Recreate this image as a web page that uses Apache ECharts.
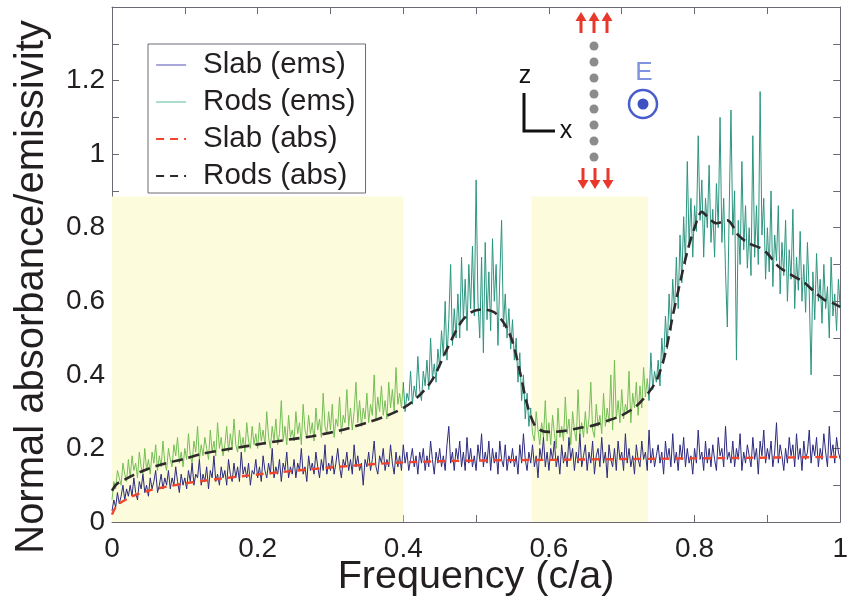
<!DOCTYPE html>
<html>
<head>
<meta charset="utf-8">
<script src="https://cdn.jsdelivr.net/npm/echarts@6/dist/echarts.min.js"></script>
<style>
  html, body { margin: 0; padding: 0; background: #fff; }
  #chart { width: 851px; height: 600px; }
</style>
</head>
<body>
<div id="chart"></div>
<script>
// Sampling grid of the emission spectra (c/a)
const emsStep = 0.0025;
const emsCount = 401;

// Rods emissivity, one value per grid step
const rodsEms = [
  0.06, 0.11, 0.09, 0.14, 0.12, 0.10, 0.16, 0.13, 0.11, 0.17,
  0.12, 0.18, 0.14, 0.16, 0.12, 0.19, 0.15, 0.13, 0.20, 0.14,
  0.17, 0.13, 0.19, 0.16, 0.21, 0.14, 0.18, 0.15, 0.22, 0.16,
  0.14, 0.20, 0.17, 0.15, 0.21, 0.18, 0.23, 0.16, 0.19, 0.15,
  0.20, 0.17, 0.24, 0.18, 0.16, 0.22, 0.19, 0.26, 0.17, 0.21,
  0.18, 0.23, 0.20, 0.17, 0.25, 0.19, 0.22, 0.18, 0.27, 0.20,
  0.23, 0.18, 0.21, 0.26, 0.19, 0.24, 0.20, 0.28, 0.21, 0.19,
  0.25, 0.20, 0.23, 0.19, 0.27, 0.22, 0.20, 0.26, 0.21, 0.24,
  0.20, 0.27, 0.22, 0.25, 0.21, 0.30, 0.23, 0.20, 0.26, 0.22,
  0.28, 0.21, 0.24, 0.33, 0.22, 0.26, 0.21, 0.29, 0.23, 0.25,
  0.22, 0.30, 0.24, 0.27, 0.21, 0.32, 0.25, 0.23, 0.29, 0.24,
  0.27, 0.22, 0.31, 0.25, 0.28, 0.23, 0.35, 0.26, 0.24, 0.30,
  0.25, 0.32, 0.23, 0.28, 0.26, 0.34, 0.24, 0.29, 0.27, 0.36,
  0.26, 0.31, 0.25, 0.30, 0.38, 0.27, 0.33, 0.26, 0.31, 0.28,
  0.35, 0.27, 0.32, 0.29, 0.40, 0.28, 0.34, 0.30, 0.37, 0.29,
  0.33, 0.28, 0.38, 0.31, 0.36, 0.30, 0.42, 0.32, 0.35, 0.31,
  0.38, 0.30, 0.35, 0.33, 0.41, 0.32, 0.37, 0.34, 0.45, 0.36,
  0.33, 0.41, 0.37, 0.44, 0.36, 0.50, 0.39, 0.43, 0.38, 0.47,
  0.42, 0.52, 0.45, 0.60, 0.44, 0.55, 0.70, 0.48, 0.58, 0.50,
  0.62, 0.50, 0.72, 0.55, 0.66, 0.52, 0.70, 0.58, 0.75, 0.56,
  0.93, 0.60, 0.50, 0.72, 0.46, 0.76, 0.55, 0.68, 0.52, 0.77,
  0.60, 0.70, 0.48, 0.66, 0.82, 0.53, 0.62, 0.50, 0.58, 0.47,
  0.55, 0.44, 0.50, 0.38, 0.46, 0.33, 0.40, 0.28, 0.35, 0.26,
  0.31, 0.24, 0.22, 0.30, 0.25, 0.21, 0.27, 0.23, 0.33, 0.22,
  0.27, 0.21, 0.29, 0.24, 0.20, 0.31, 0.23, 0.26, 0.22, 0.34,
  0.24, 0.28, 0.21, 0.30, 0.25, 0.22, 0.36, 0.24, 0.27, 0.23,
  0.30, 0.24, 0.28, 0.38, 0.25, 0.23, 0.32, 0.26, 0.29, 0.24,
  0.35, 0.26, 0.31, 0.27, 0.40, 0.25, 0.44, 0.28, 0.33, 0.27,
  0.36, 0.28, 0.32, 0.30, 0.41, 0.27, 0.35, 0.31, 0.38, 0.29,
  0.37, 0.31, 0.42, 0.34, 0.39, 0.33, 0.46, 0.36, 0.41, 0.38,
  0.44, 0.37, 0.50, 0.43, 0.56, 0.47, 0.62, 0.52, 0.66, 0.57,
  0.72, 0.58, 0.78, 0.65, 0.83, 0.70, 0.98, 0.75, 0.88, 0.72,
  0.86, 0.79, 1.05, 0.82, 0.93, 0.72, 0.88, 0.80, 0.97, 0.76,
  0.85, 0.72, 0.92, 0.80, 1.10, 0.76, 0.88, 0.68, 0.53, 0.84,
  1.12, 0.78, 0.90, 0.44, 0.82, 0.70, 0.98, 0.74, 0.86, 0.69,
  0.80, 0.67, 1.05, 0.72, 0.86, 0.70, 1.17, 0.78, 0.88, 0.66,
  0.80, 0.68, 0.90, 0.64, 0.78, 0.71, 0.86, 0.62, 0.76, 0.67,
  0.82, 0.60, 0.74, 0.66, 0.85, 0.58, 0.72, 0.63, 0.79, 0.60,
  0.70, 0.57, 0.76, 0.62, 0.40, 0.68, 0.55, 0.73, 0.60, 0.66,
  0.54, 0.70, 0.58, 0.64, 0.50, 0.72, 0.56, 0.62, 0.52, 0.66, 0.58
];

// Slab emissivity, same grid
const slabEms = [
  0.03, 0.06, 0.04, 0.08, 0.05, 0.07, 0.10, 0.06, 0.09, 0.07,
  0.10, 0.07, 0.12, 0.08, 0.06, 0.11, 0.09, 0.13, 0.08, 0.10,
  0.07, 0.12, 0.09, 0.11, 0.14, 0.08, 0.10, 0.13, 0.09, 0.12,
  0.10, 0.14, 0.09, 0.12, 0.10, 0.15, 0.11, 0.08, 0.13, 0.10,
  0.12, 0.09, 0.14, 0.11, 0.16, 0.10, 0.13, 0.12, 0.17, 0.10,
  0.13, 0.11, 0.15, 0.09, 0.14, 0.12, 0.18, 0.11, 0.13, 0.10,
  0.15, 0.12, 0.14, 0.10, 0.17, 0.13, 0.11, 0.16, 0.12, 0.15,
  0.11, 0.19, 0.13, 0.15, 0.12, 0.16, 0.10, 0.14, 0.13, 0.17,
  0.12, 0.15, 0.11, 0.18, 0.14, 0.12, 0.16, 0.13, 0.20, 0.12,
  0.15, 0.13, 0.17, 0.11, 0.16, 0.14, 0.19, 0.12, 0.15, 0.13,
  0.17, 0.12, 0.16, 0.14, 0.20, 0.13, 0.15, 0.11, 0.18, 0.14,
  0.16, 0.13, 0.19, 0.15, 0.12, 0.17, 0.14, 0.21, 0.13, 0.16,
  0.14, 0.18, 0.13, 0.16, 0.20, 0.15, 0.12, 0.17, 0.15, 0.19,
  0.14, 0.17, 0.13, 0.21, 0.15, 0.18, 0.14, 0.16, 0.10, 0.17,
  0.15, 0.19, 0.14, 0.17, 0.22, 0.15, 0.13, 0.18, 0.16, 0.20,
  0.14, 0.17, 0.15, 0.21, 0.16, 0.13, 0.19, 0.15, 0.18, 0.14,
  0.21, 0.16, 0.19, 0.14, 0.17, 0.20, 0.15, 0.18, 0.13, 0.19,
  0.16, 0.20, 0.14, 0.18, 0.15, 0.22, 0.17, 0.13, 0.19, 0.16,
  0.20, 0.15, 0.18, 0.14, 0.21, 0.26, 0.16, 0.19, 0.14, 0.20,
  0.17, 0.22, 0.15, 0.19, 0.14, 0.23, 0.16, 0.20, 0.15, 0.18,
  0.14, 0.21, 0.17, 0.24, 0.15, 0.19, 0.16, 0.22, 0.14, 0.20,
  0.16, 0.19, 0.13, 0.22, 0.17, 0.15, 0.21, 0.14, 0.18, 0.16,
  0.20, 0.15, 0.18, 0.13, 0.21, 0.16, 0.24, 0.17, 0.14, 0.19,
  0.16, 0.21, 0.15, 0.18, 0.12, 0.20, 0.17, 0.23, 0.15, 0.19,
  0.14, 0.20, 0.17, 0.22, 0.15, 0.18, 0.13, 0.21, 0.16, 0.19,
  0.15, 0.23, 0.17, 0.20, 0.14, 0.19, 0.16, 0.24, 0.15, 0.18,
  0.21, 0.14, 0.19, 0.16, 0.22, 0.13, 0.18, 0.20, 0.15, 0.23,
  0.16, 0.19, 0.12, 0.21, 0.17, 0.15, 0.20, 0.14, 0.22, 0.17,
  0.19, 0.14, 0.24, 0.16, 0.20, 0.15, 0.18, 0.13, 0.21, 0.17,
  0.15, 0.22, 0.17, 0.19, 0.14, 0.25, 0.16, 0.20, 0.15, 0.18,
  0.21, 0.16, 0.19, 0.13, 0.22, 0.17, 0.20, 0.15, 0.24, 0.16,
  0.19, 0.14, 0.21, 0.17, 0.23, 0.15, 0.20, 0.16, 0.18, 0.13,
  0.20, 0.16, 0.25, 0.17, 0.19, 0.14, 0.22, 0.16, 0.20, 0.15,
  0.21, 0.17, 0.14, 0.23, 0.18, 0.20, 0.15, 0.26, 0.17, 0.19,
  0.16, 0.22, 0.15, 0.20, 0.17, 0.24, 0.14, 0.19, 0.16, 0.21,
  0.18, 0.15, 0.23, 0.17, 0.20, 0.13, 0.22, 0.18, 0.25, 0.16,
  0.20, 0.17, 0.22, 0.15, 0.19, 0.27, 0.16, 0.21, 0.18, 0.14,
  0.20, 0.16, 0.23, 0.18, 0.21, 0.15, 0.24, 0.17, 0.20, 0.14,
  0.22, 0.17, 0.19, 0.25, 0.16, 0.21, 0.18, 0.23, 0.15, 0.20,
  0.17, 0.24, 0.19, 0.15, 0.26, 0.18, 0.21, 0.16, 0.23, 0.19, 0.17
];

// Absorbance curves: frequency / value pairs
const rodsAbsFreq = [0, 0.005, 0.01, 0.02, 0.03, 0.05, 0.075, 0.1, 0.125, 0.15, 0.175, 0.2, 0.225, 0.25, 0.275, 0.3, 0.325, 0.35, 0.375, 0.4, 0.42, 0.44, 0.46, 0.48, 0.495, 0.51, 0.525, 0.54, 0.55, 0.56, 0.57, 0.58, 0.59, 0.6, 0.62, 0.64, 0.66, 0.68, 0.7, 0.72, 0.74, 0.75, 0.76, 0.77, 0.78, 0.79, 0.8, 0.81, 0.82, 0.83, 0.845, 0.86, 0.875, 0.89, 0.9, 0.915, 0.93, 0.95, 0.965, 0.98, 0.99, 1.0];
const rodsAbs = [0.085, 0.1, 0.108, 0.118, 0.128, 0.145, 0.16, 0.172, 0.186, 0.195, 0.203, 0.211, 0.219, 0.226, 0.233, 0.243, 0.255, 0.27, 0.287, 0.31, 0.34, 0.387, 0.47, 0.545, 0.572, 0.578, 0.57, 0.535, 0.49, 0.41, 0.32, 0.265, 0.248, 0.245, 0.247, 0.255, 0.262, 0.275, 0.29, 0.315, 0.36, 0.395, 0.46, 0.56, 0.65, 0.735, 0.8, 0.843, 0.825, 0.812, 0.82, 0.78, 0.757, 0.745, 0.73, 0.695, 0.675, 0.652, 0.625, 0.602, 0.595, 0.585];

const slabAbsFreq = [0, 0.005, 0.01, 0.02, 0.03, 0.05, 0.075, 0.1, 0.15, 0.2, 0.25, 0.3, 0.35, 0.4, 0.45, 0.5, 0.6, 0.7, 0.8, 0.9, 1.0];
const slabAbs = [0.02, 0.04, 0.05, 0.062, 0.072, 0.085, 0.096, 0.105, 0.118, 0.129, 0.139, 0.148, 0.156, 0.162, 0.165, 0.167, 0.169, 0.171, 0.173, 0.175, 0.177];

// Band-gap frequency ranges (shaded)
const gapBands = [[0, 0.4], [0.576, 0.736]];
const gapTop = 0.885;

const names = ['Slab (ems)', 'Rods (ems)', 'Slab (abs)', 'Rods (abs)'];

const pairs = (xs, ys) => ys.map((y, i) => [xs[i], y]);
const emsFreq = Array.from({ length: emsCount }, (_, i) => +(i * emsStep).toFixed(4));

const axisColor = '#6e6874';
const textColor = '#231f20';
const fontFam = '"Liberation Sans", Arial, Helvetica, sans-serif';

const colSlabEms = '#2c2a7e';
const colRodsGap = '#74bd55';
const colRodsPass = '#2b957f';
const colSlabAbs = '#f0452a';
const colRodsAbs = '#2e2a2c';
const colGap = '#fcfcdc';

const tickLabel = (v) => {
  const k = Math.round(v * 10);
  if (k % 2 !== 0 || k > 12) return '';
  return String(k / 10);
};

const baseX = {
  type: 'value', min: 0, max: 1, interval: 0.1,
  axisLine: { show: true, onZero: false, lineStyle: { color: axisColor, width: 1 } },
  axisTick: { show: true, inside: true, length: 7, lineStyle: { color: axisColor } },
  splitLine: { show: false }
};
const baseY = {
  type: 'value', min: 0, max: 1.4, interval: 0.1,
  axisLine: { show: true, onZero: false, lineStyle: { color: axisColor, width: 1 } },
  axisTick: { show: true, inside: true, length: 7, lineStyle: { color: axisColor } },
  splitLine: { show: false }
};

const chart = echarts.init(document.getElementById('chart'), null, { renderer: 'canvas' });

// Small schematic: rod column, axes and field direction
const rodX = 594;
const dotYs = [46, 62, 78, 94, 109, 125, 141, 157];
const red = '#e8372b';
function arrow(cx, tipY, tailY, up) {
  const headH = 9, headW = 5.5;
  const shaftEnd = up ? tipY + headH - 1 : tipY - headH + 1;
  return [
    { type: 'line', shape: { x1: cx, y1: tailY, x2: cx, y2: shaftEnd }, style: { stroke: red, lineWidth: 3 } },
    { type: 'polygon', shape: { points: up
        ? [[cx, tipY], [cx - headW, tipY + headH], [cx + headW, tipY + headH]]
        : [[cx, tipY], [cx - headW, tipY - headH], [cx + headW, tipY - headH]] },
      style: { fill: red } }
  ];
}
const schematic = [];
[581, 594, 607].forEach(cx => schematic.push(...arrow(cx, 12, 33, true)));
[583, 595, 608].forEach(cx => schematic.push(...arrow(cx, 189, 168, false)));
dotYs.forEach(y => schematic.push({ type: 'circle', shape: { cx: rodX, cy: y, r: 4.5 }, style: { fill: '#8c8c8c' } }));
schematic.push(
  { type: 'polyline', shape: { points: [[524, 93], [524, 131], [555, 131]] }, style: { stroke: '#111', lineWidth: 3, fill: null } },
  { type: 'text', style: { x: 525, y: 76, text: 'z', fill: '#111', font: '25px ' + fontFam, align: 'center', verticalAlign: 'middle' } },
  { type: 'text', style: { x: 566, y: 131, text: 'x', fill: '#111', font: '25px ' + fontFam, align: 'center', verticalAlign: 'middle' } },
  { type: 'text', style: { x: 644, y: 73, text: 'E', fill: '#7f93e0', font: '26px ' + fontFam, align: 'center', verticalAlign: 'middle' } },
  { type: 'circle', shape: { cx: 643, cy: 104, r: 14 }, style: { fill: null, stroke: '#4a5dcc', lineWidth: 2.5 } },
  { type: 'circle', shape: { cx: 643, cy: 104, r: 5.5 }, style: { fill: '#3d51c2' } }
);

// Axis titles
const titles = [
  { type: 'text', rotation: Math.PI / 2, x: 32, y: 287,
    style: { text: 'Normal absorbance/emissivity', fill: textColor, font: '40px ' + fontFam, align: 'center', verticalAlign: 'middle' } },
  { type: 'text', x: 476, y: 577,
    style: { text: 'Frequency (c/a)', fill: textColor, font: '39.5px ' + fontFam, align: 'center', verticalAlign: 'middle' } }
];

const hiddenSymbol = { color: 'rgba(0,0,0,0)', borderWidth: 0 };

const option = {
  backgroundColor: '#ffffff',
  animation: false,
  textStyle: { fontFamily: fontFam },
  grid: { left: 112, right: 8, top: 7, bottom: 78, containLabel: false },
  legend: {
    data: [
      { name: names[0], itemStyle: hiddenSymbol, lineStyle: { color: '#6f6cc4', width: 1.2 } },
      { name: names[1], itemStyle: hiddenSymbol, lineStyle: { color: '#8fd3bf', width: 1.5 } },
      { name: names[2], itemStyle: hiddenSymbol, lineStyle: { color: colSlabAbs, width: 2.2, type: [8, 6] } },
      { name: names[3], itemStyle: hiddenSymbol, lineStyle: { color: colRodsAbs, width: 2.2, type: [8, 6] } }
    ],
    orient: 'vertical',
    left: 148, top: 44,
    backgroundColor: '#ffffff',
    borderColor: axisColor, borderWidth: 1,
    padding: [6, 10, 2, 7],
    itemWidth: 30, itemHeight: 4, itemGap: 7,
    textStyle: { fontSize: 29.5, color: textColor, lineHeight: 30, padding: [0, 0, 0, 12], fontFamily: fontFam },
    selectedMode: false
  },
  visualMap: {
    show: false,
    type: 'piecewise',
    seriesIndex: 0,
    dimension: 0,
    pieces: [
      { lt: 0.4, color: colRodsGap },
      { gte: 0.4, lt: 0.576, color: colRodsPass },
      { gte: 0.576, lt: 0.736, color: colRodsGap },
      { gte: 0.736, color: colRodsPass }
    ]
  },
  xAxis: [
    Object.assign({}, baseX, {
      position: 'bottom',
      axisLabel: { show: true, fontSize: 28, color: textColor, margin: 13, formatter: tickLabel, fontFamily: fontFam }
    }),
    Object.assign({}, baseX, { position: 'top', axisLabel: { show: false } })
  ],
  yAxis: [
    Object.assign({}, baseY, {
      position: 'left',
      axisLabel: { show: true, fontSize: 28, color: textColor, margin: 7, formatter: tickLabel, fontFamily: fontFam }
    }),
    Object.assign({}, baseY, { position: 'right', axisLabel: { show: false } })
  ],
  graphic: [{ type: 'group', children: schematic, z: 100 }].concat(titles),
  series: [
    {
      name: 'Rods (ems)', type: 'line', xAxisIndex: 0, yAxisIndex: 0,
      data: pairs(emsFreq, rodsEms), showSymbol: false, symbol: 'none',
      lineStyle: { width: 1 }, z: 3
    },
    {
      name: 'Slab (ems)', type: 'line', xAxisIndex: 0, yAxisIndex: 0,
      data: pairs(emsFreq, slabEms), showSymbol: false, symbol: 'none',
      lineStyle: { color: colSlabEms, width: 1 }, itemStyle: { color: colSlabEms }, z: 4,
      markArea: {
        silent: true, z: 1,
        itemStyle: { color: colGap },
        data: gapBands.map(b => [{ xAxis: b[0], yAxis: 0 }, { xAxis: b[1], yAxis: gapTop }])
      }
    },
    {
      name: 'Slab (abs)', type: 'line', xAxisIndex: 0, yAxisIndex: 0,
      data: pairs(slabAbsFreq, slabAbs), showSymbol: false, symbol: 'none', smooth: 0.3,
      lineStyle: { color: colSlabAbs, width: 2.4, type: [8, 6] }, itemStyle: { color: colSlabAbs }, z: 5
    },
    {
      name: 'Rods (abs)', type: 'line', xAxisIndex: 0, yAxisIndex: 0,
      data: pairs(rodsAbsFreq, rodsAbs), showSymbol: false, symbol: 'none', smooth: 0.3,
      lineStyle: { color: colRodsAbs, width: 2.6, type: [11, 6] }, itemStyle: { color: colRodsAbs }, z: 6
    }
  ]
};

chart.setOption(option);
</script>
</body>
</html>
